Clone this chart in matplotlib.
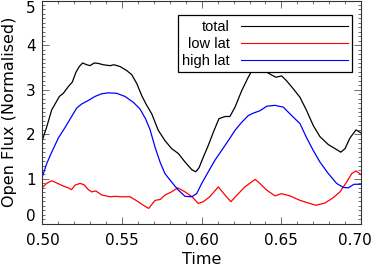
import matplotlib
matplotlib.use("Agg")
import matplotlib.pyplot as plt
import matplotlib.transforms as mtransforms
from matplotlib.ticker import MultipleLocator

# total open flux
t_total = [0.5000, 0.5026, 0.5058, 0.5079, 0.5106, 0.5131, 0.5162, 0.5187, 0.5210, 0.5231,
           0.5252, 0.5278, 0.5298, 0.5325, 0.5350, 0.5382, 0.5424, 0.5449, 0.5487, 0.5529,
           0.5560, 0.5592, 0.5623, 0.5650, 0.5686, 0.5727, 0.5769, 0.5811, 0.5853, 0.5895,
           0.5937, 0.5962, 0.5983, 0.6010, 0.6041, 0.6073, 0.6108, 0.6146, 0.6177, 0.6209,
           0.6251, 0.6292, 0.6320, 0.6345, 0.6387, 0.6429, 0.6466, 0.6502, 0.6533, 0.6575,
           0.6617, 0.6659, 0.6700, 0.6742, 0.6795, 0.6837, 0.6873, 0.6900, 0.6931, 0.6969,
           0.7000]
total = [1.88, 2.16, 2.55, 2.68, 2.85, 2.92, 3.07, 3.17, 3.39, 3.52,
         3.60, 3.56, 3.54, 3.60, 3.59, 3.56, 3.54, 3.56, 3.52, 3.43,
         3.34, 3.14, 2.87, 2.68, 2.46, 2.09, 1.86, 1.68, 1.57, 1.38,
         1.21, 1.16, 1.25, 1.49, 1.75, 2.05, 2.35, 2.40, 2.40, 2.61,
         2.98, 3.28, 3.46, 3.54, 3.44, 3.35, 3.28, 3.31, 3.20, 3.02,
         2.83, 2.53, 2.20, 1.95, 1.77, 1.68, 1.60, 1.68, 1.92, 2.10,
         2.03]

# low latitude
t_low = [0.5000, 0.5026, 0.5058, 0.5089, 0.5131, 0.5162, 0.5183, 0.5204, 0.5236, 0.5261,
         0.5288, 0.5309, 0.5336, 0.5372, 0.5424, 0.5455, 0.5497, 0.5550, 0.5592, 0.5633,
         0.5667, 0.5707, 0.5740, 0.5770, 0.5810, 0.5850, 0.5895, 0.5940, 0.5978, 0.6010,
         0.6050, 0.6104, 0.6146, 0.6183, 0.6230, 0.6270, 0.6335, 0.6356, 0.6408, 0.6460,
         0.6500, 0.6554, 0.6617, 0.6670, 0.6717, 0.6774, 0.6826, 0.6868, 0.6910, 0.6942,
         0.6969, 0.7000]
low_lat = [0.81, 0.90, 0.96, 0.91, 0.84, 0.80, 0.76, 0.86, 0.90, 0.87,
           0.76, 0.71, 0.73, 0.64, 0.60, 0.61, 0.60, 0.60, 0.51, 0.41,
           0.34, 0.52, 0.54, 0.64, 0.71, 0.80, 0.71, 0.60, 0.45, 0.49,
           0.60, 0.82, 0.64, 0.49, 0.67, 0.82, 0.99, 0.93, 0.75, 0.62,
           0.67, 0.62, 0.52, 0.46, 0.41, 0.46, 0.58, 0.71, 0.93, 1.12,
           1.18, 1.10]

# high latitude
t_high = [0.5000, 0.5026, 0.5058, 0.5100, 0.5141, 0.5183, 0.5215, 0.5246, 0.5288, 0.5330,
          0.5372, 0.5413, 0.5466, 0.5518, 0.5570, 0.5612, 0.5647, 0.5675, 0.5707, 0.5738,
          0.5769, 0.5811, 0.5853, 0.5895, 0.5937, 0.5968, 0.6000, 0.6041, 0.6083, 0.6125,
          0.6167, 0.6209, 0.6251, 0.6292, 0.6320, 0.6366, 0.6408, 0.6460, 0.6512, 0.6565,
          0.6617, 0.6659, 0.6700, 0.6742, 0.6795, 0.6847, 0.6889, 0.6920, 0.6956, 0.7000]
high_lat = [1.06, 1.34, 1.60, 1.92, 2.15, 2.40, 2.59, 2.68, 2.76, 2.85,
            2.91, 2.93, 2.92, 2.85, 2.72, 2.57, 2.35, 2.11, 1.71, 1.38,
            1.12, 0.93, 0.75, 0.61, 0.60, 0.67, 0.90, 1.16, 1.42, 1.64,
            1.86, 2.09, 2.27, 2.42, 2.47, 2.53, 2.63, 2.65, 2.61, 2.42,
            2.24, 1.92, 1.64, 1.38, 1.12, 0.90, 0.81, 0.80, 0.88, 0.88]

fig = plt.figure(figsize=(3.74, 2.69), dpi=100)
ax = fig.add_axes([0.1136, 0.169, 0.8516, 0.829])

ax.plot(t_total, total, color="black", lw=0.9, label="total")
ax.plot(t_low, low_lat, color="red", lw=0.9, label="low lat")
ax.plot(t_high, high_lat, color="blue", lw=0.9, label="high lat")

ax.set_xlim(0.5, 0.7)
ax.set_ylim(0, 5)
ax.set_xticks([0.50, 0.55, 0.60, 0.65, 0.70])
ax.set_xticklabels(["0.50", "0.55", "0.60", "0.65", "0.70"])
ax.set_yticks([0, 1, 2, 3, 4, 5])
ax.xaxis.set_minor_locator(MultipleLocator(0.01))
ax.yaxis.set_minor_locator(MultipleLocator(0.1))
ax.tick_params(which="both", direction="in", top=True, right=True, width=0.6, color="#555555")
ax.tick_params(which="major", length=5)
ax.tick_params(which="minor", length=2.5)
ax.tick_params(axis="x", labelsize=11, pad=7)
ax.tick_params(axis="y", labelsize=11, pad=5)

# keep the end labels inside the picture
ylabs = ax.get_yticklabels()
ylabs[-1].set_va("top")
ylabs[0].set_va("bottom")
xlabs = ax.get_xticklabels()
xlabs[-1].set_transform(xlabs[-1].get_transform() +
                        mtransforms.ScaledTranslation(-6 / 100, 0, fig.dpi_scale_trans))

for s in ax.spines.values():
    s.set_linewidth(0.8)
    s.set_color("#333333")

ax.set_xlabel("Time", fontsize=11.5, labelpad=3)
ax.set_ylabel("Open Flux (Normalised)", fontsize=11.5, labelpad=6)

leg = ax.legend(loc="upper right", bbox_to_anchor=(0.972, 0.933), borderaxespad=0,
                markerfirst=False, handlelength=7.3, fancybox=False, framealpha=1,
                edgecolor="black", prop={"family": "Liberation Sans", "size": 10.5},
                labelspacing=0.2, borderpad=0.3, handletextpad=0.8)
leg.get_frame().set_linewidth(0.9)
for h in leg.get_lines():
    h.set_linewidth(0.8)

fig.savefig("out.png", dpi=100)
